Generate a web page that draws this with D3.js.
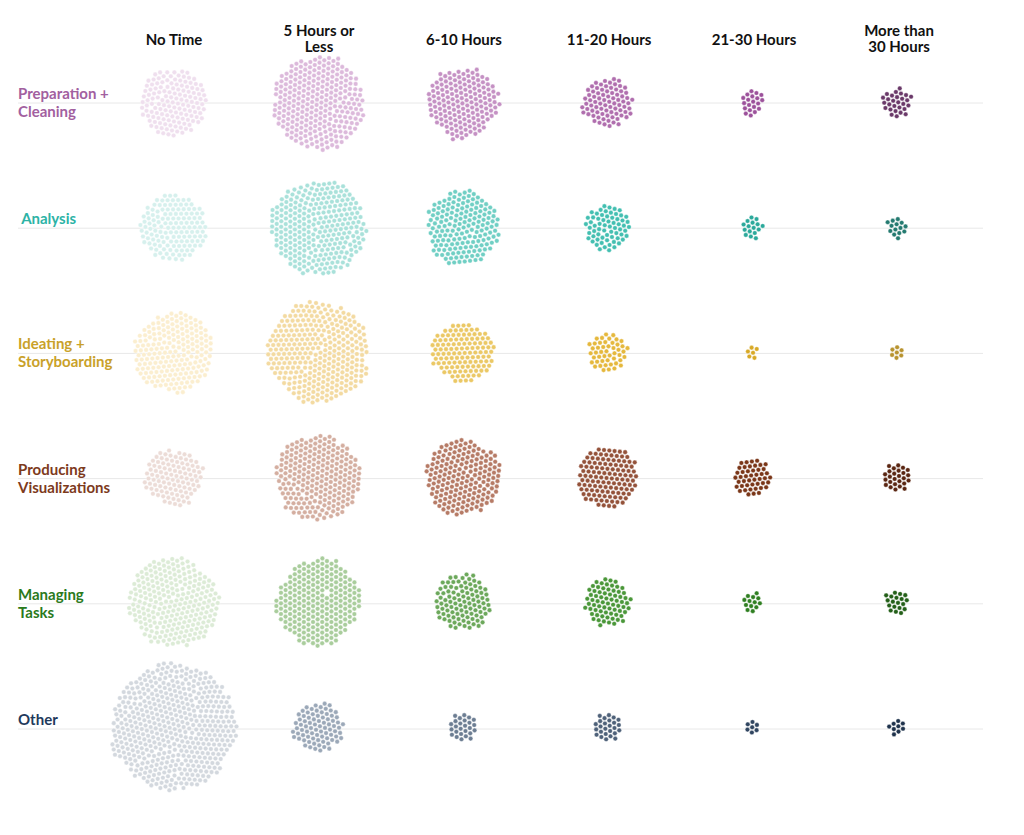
<!DOCTYPE html>
<html>
<head>
<meta charset="utf-8">
<script src="https://cdn.jsdelivr.net/npm/d3@7"></script>
<style>
  body { margin: 0; background: #fff; }
  text { font-family: Lato, "Open Sans", sans-serif; font-weight: 700; }
</style>
</head>
<body>
<div id="chart"></div>
<script>
// time spent per week on each task, one dot per respondent
var columns = ["No Time", "5 Hours or Less", "6-10 Hours", "11-20 Hours", "21-30 Hours", "More than 30 Hours"];
var columnLabels = [["No Time"], ["5 Hours or", "Less"], ["6-10 Hours"], ["11-20 Hours"], ["21-30 Hours"], ["More than", "30 Hours"]];

var categories = ["Preparation + Cleaning", "Analysis", "Ideating + Storyboarding", "Producing Visualizations", "Managing Tasks", "Other"];
var categoryLabels = [["Preparation +", "Cleaning"], [" Analysis"], ["Ideating +", "Storyboarding"], ["Producing", "Visualizations"], ["Managing", "Tasks"], ["Other"]];

var prepCounts      = [142, 271, 160, 80, 20, 28];
var analysisCounts  = [140, 280, 170, 65, 16, 14];
var ideatingCounts  = [200, 318, 120, 48, 6, 7];
var producingCounts = [105, 232, 182, 120, 46, 26];
var managingCounts  = [252, 232, 101, 71, 13, 19];
var otherCounts     = [490, 80, 26, 26, 7, 9];

var counts = [prepCounts, analysisCounts, ideatingCounts, producingCounts, managingCounts, otherCounts];

// colours: label colour, then one shade per column
var labelColors = ["#a2609f", "#2db3a6", "#c9a12a", "#7d3a1c", "#2a7a1c", "#1f3a5c"];
var shades = [
  ["#efdfee", "#dcb9db", "#c591c4", "#b06eae", "#9c519b", "#6a3969"],
  ["#d6f0ed", "#a9e1da", "#70cfc4", "#43bfb1", "#2ba99b", "#247a70"],
  ["#fbeecf", "#f3daa1", "#ebc865", "#e5b83d", "#d8a927", "#b8932f"],
  ["#ecdcd7", "#d4aea0", "#b67b66", "#94523a", "#7a3618", "#5a2612"],
  ["#dcebd6", "#a9cd9c", "#6ca85b", "#4a9739", "#2f7f21", "#235f18"],
  ["#d3d8de", "#9ba8b8", "#6c7d92", "#4e6179", "#304560", "#1f334c"]
];

var width = 1024, height = 835;
var dotR = 2.3;

var svg = d3.select("#chart")
  .append("svg")
    .attr("width", width)
    .attr("height", height);

var x = d3.scalePoint()
  .domain(columns)
  .range([174, 899]);

var y = d3.scalePoint()
  .domain(categories)
  .range([103, 729]);

// row rules
svg.selectAll("line.rule")
  .data(categories)
  .enter()
  .append("line")
    .attr("class", "rule")
    .attr("x1", 18)
    .attr("x2", 983)
    .attr("y1", function(d) { return y(d); })
    .attr("y2", function(d) { return y(d); })
    .attr("stroke", "#e8e8e8")
    .attr("stroke-width", 1);

// column headers
var headers = svg.selectAll("text.header")
  .data(columns)
  .enter()
  .append("text")
    .attr("class", "header")
    .attr("text-anchor", "middle")
    .attr("x", function(d) { return x(d); })
    .attr("y", function(d, i) { return columnLabels[i].length > 1 ? 36 : 45; })
    .style("font-size", "15px")
    .attr("fill", "#111");

headers.selectAll("tspan")
  .data(function(d, i) { return columnLabels[i]; })
  .enter()
  .append("tspan")
    .attr("x", function() { return x(d3.select(this.parentNode).datum()); })
    .attr("dy", function(d, i) { return i ? 16 : 0; })
    .text(function(d) { return d; });

// row labels
var labels = svg.selectAll("text.rowlabel")
  .data(categories)
  .enter()
  .append("text")
    .attr("class", "rowlabel")
    .attr("x", 18)
    .attr("y", function(d) { return y(d) - 4; })
    .attr("fill", function(d, i) { return labelColors[i]; })
    .style("font-size", "15px")
    .style("white-space", "pre");

labels.selectAll("tspan")
  .data(function(d, i) { return categoryLabels[i]; })
  .enter()
  .append("tspan")
    .attr("x", 18)
    .attr("dy", function(d, i) { return i ? 18 : 0; })
    .text(function(d) { return d; });

// one packed cluster per cell
categories.forEach(function(cat, ri) {
  columns.forEach(function(col, ci) {
    var n = counts[ri][ci];
    var cx = x(col), cy = y(cat);
    var nodes = d3.range(n).map(function(i) { return { id: i }; });

    var sim = d3.forceSimulation(nodes)
      .force("x", d3.forceX(cx).strength(0.08))
      .force("y", d3.forceY(cy).strength(0.08))
      .force("collide", d3.forceCollide(2.65).iterations(3))
      .stop();
    for (var t = 0; t < 300; t++) sim.tick();

    svg.append("g")
      .selectAll("circle")
      .data(nodes)
      .enter()
      .append("circle")
        .attr("cx", function(d) { return d.x; })
        .attr("cy", function(d) { return d.y; })
        .attr("r", dotR)
        .attr("fill", shades[ri][ci])
        .attr("stroke", "#fff")
        .attr("stroke-width", 0.4);
  });
});
</script>
</body>
</html>
